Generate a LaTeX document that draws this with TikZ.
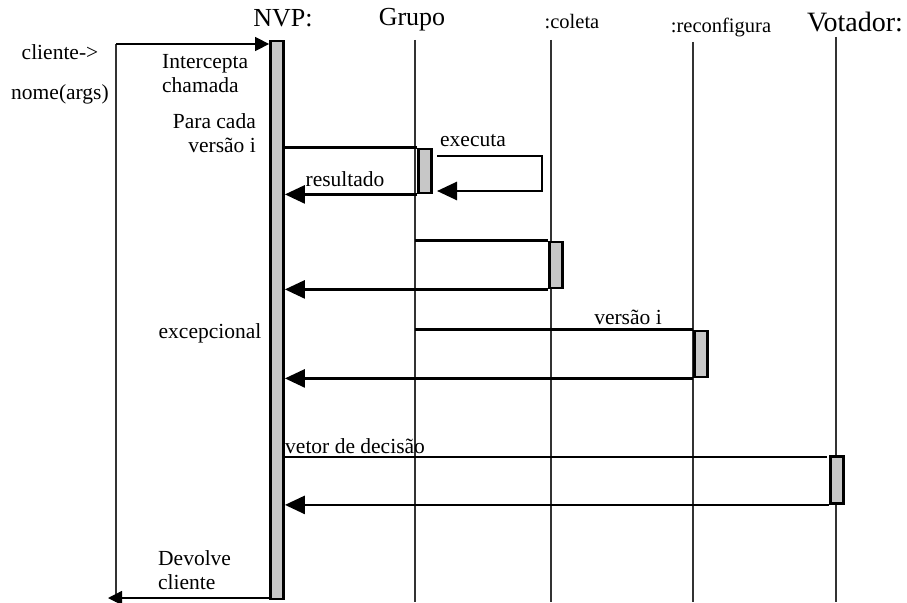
\documentclass[tikz,border=0pt]{standalone}
\usepackage{fontspec}
\setmainfont{Liberation Serif}
\usetikzlibrary{arrows.meta}
\begin{document}
\begin{tikzpicture}[x=1pt,y=-1pt,
  head/.style={font=\fontsize{26}{28}\selectfont, inner sep=0pt},
  subhead/.style={font=\fontsize{20.5}{22}\selectfont, inner sep=0pt},
  lbl/.style={font=\fontsize{21.5}{24}\selectfont, inner sep=0pt},
  life/.style={line width=1.4pt, black!80},
  act/.style={draw, line width=2.8pt, fill=black!22, minimum width=13pt, inner sep=0pt},
  msg/.style={line width=2.8pt},
  ret/.style={line width=2.8pt, -{Triangle[length=20pt,width=18pt]}},
  call/.style={line width=1.4pt, -{Triangle[length=14pt,width=14pt]}},
]
\useasboundingbox (0,0) rectangle (907,602);

% object headers
\node[head] (hnvp) at (283,18) {NVP:};
\node[head] (hgrupo) at (412,20) {Grupo};
\node[subhead] (hcoleta) at (572,22) {:coleta};
\node[subhead] (hreconf) at (721,27) {:reconfigura};
\node[head, font=\fontsize{28}{30}\selectfont] (hvot) at (855,22) {Votador:};

% lifelines
\coordinate (lg0) at (415,40);  \coordinate (lg1) at (415,602);
\coordinate (lc0) at (551,40);  \coordinate (lc1) at (551,602);
\coordinate (lr0) at (693,42);  \coordinate (lr1) at (693,602);
\coordinate (lv0) at (836,37);  \coordinate (lv1) at (836,602);
\coordinate (lk0) at (116,44);  \coordinate (lk1) at (116,602);
\draw[life] (lg0) -- (lg1);
\draw[life] (lc0) -- (lc1);
\draw[life] (lr0) -- (lr1);
\draw[life] (lv0) -- (lv1);
\draw[life] (lk0) -- (lk1);

% activation bars
\node[act, minimum height=558pt] (nvp) at (277,320) {};
\node[act, minimum height=44pt] (g) at (425,171) {};
\node[act, minimum height=46pt] (c) at (556,265) {};
\node[act, minimum height=46pt] (r) at (701,354) {};
\node[act, minimum height=47pt] (v) at (837,480) {};

% client call and return
\draw[call] (lk0) -- (nvp.west |- lk0);
\coordinate (kret) at (108,598);
\draw[call] (nvp.west |- kret) -- (kret);

% Grupo: call, self call, result
\draw[msg] (nvp.east |- g.north west) -- (g.north west);
\draw[ret] (g.south west) -- (nvp.east |- g.south west);
\coordinate (s0) at (437,156);
\coordinate (s1) at (542,156);
\coordinate (s2) at (542,191);
\coordinate (s3) at (437,191);
\draw[ret] (s0) -- (s1) -- (s2) -- (s3);

% coleta
\draw[msg] (lg0 |- c.north west) -- (c.north west);
\draw[ret] (c.south west) -- (nvp.east |- c.south west);

% reconfigura
\draw[msg] (lg0 |- r.north west) -- (r.north west);
\draw[ret] (r.south west) -- (nvp.east |- r.south west);

% Votador
\coordinate (vend) at (827,457);
\draw[msg] (nvp.east |- vend) -- (vend);
\draw[ret] (v.south west) -- (nvp.east |- v.south west);

% labels
\node[lbl] (tcli) at (60,52) {cliente->};
\node[lbl] (tnome) at (60,94) {nome(args)};
\node[lbl, anchor=north west, align=left] (tint) at (162,54) {Intercepta\\chamada};
\node[lbl, anchor=north east, align=right] (tpara) at (256,113) {Para cada\\versão i};
\node[lbl] (texc) at (210,333) {excepcional};
\node[lbl, anchor=north west, align=left] (tdev) at (158,550) {Devolve\\cliente};
\node[lbl] (texe) at (473,141) {executa};
\node[lbl] (tres) at (345,179) {resultado};
\node[lbl] (tver) at (628,317) {versão i};
\node[lbl, anchor=west] (tvet) at (285,446) {vetor de decisão};
\end{tikzpicture}
\end{document}
